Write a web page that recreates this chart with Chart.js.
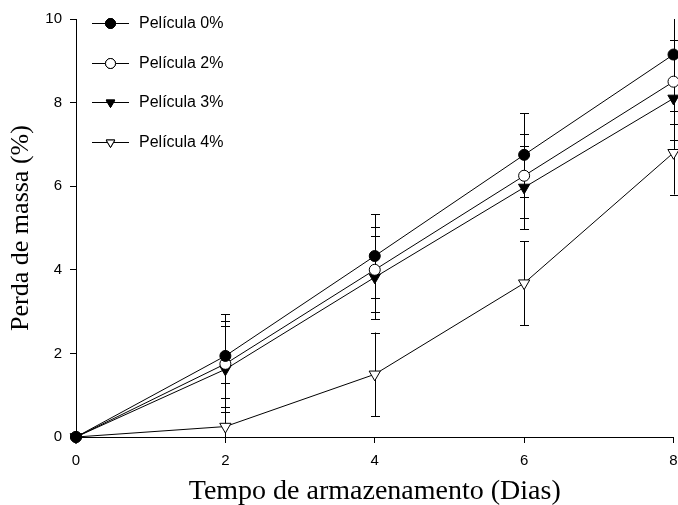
<!DOCTYPE html>
<html>
<head>
    <script src="https://cdn.jsdelivr.net/npm/chart.js"></script>
    <title>Perda de massa</title>
    <style>
        html, body { margin: 0; background: #fff; overflow: hidden; }
        #wrap { width: 678px; height: 505px; overflow: hidden; }
    </style>
</head>
<body>
    <div id="wrap"><canvas id="massChart" width="681" height="505"></canvas></div>

    <script>
        // storage days
        const dias = [0, 2, 4, 6, 8];

        // mean mass loss (%) per coating
        const pelicula0 = [0, 1.94, 4.33, 6.75, 9.15];
        const pelicula2 = [0, 1.75, 4.00, 6.25, 8.50];
        const pelicula3 = [0, 1.62, 3.82, 5.97, 8.10];
        const pelicula4 = [0, 0.25, 1.50, 3.68, 6.80];

        // standard deviations
        const desvio0 = [0, 1.00, 1.00, 1.00, 1.00];
        const desvio2 = [0, 1.03, 1.02, 1.00, 1.00];
        const desvio3 = [0, 1.03, 1.00, 1.00, 1.00];
        const desvio4 = [0, 1.04, 1.00, 1.00, 1.00];

        const yTicks = [0, 2, 4, 6, 8, 10];
        const xTicks = [0, 2, 4, 6, 8];

        function toPoints(values) {
            return dias.map((d, i) => ({ x: d, y: values[i] }));
        }

        function makeSet(label, values, sd, style, fill, rotation) {
            return {
                label: label,
                data: toPoints(values),
                sd: sd,
                borderColor: '#000',
                borderWidth: 1,
                pointStyle: style,
                pointRotation: rotation,
                pointRadius: style === 'circle' ? 5.5 : 6.5,
                pointBackgroundColor: fill,
                pointBorderColor: '#000',
                pointBorderWidth: 1,
                tension: 0,
                fill: false
            };
        }

        // vertical error bars with caps, drawn under the markers
        const errorBars = {
            id: 'errorBars',
            beforeDatasetsDraw(chart) {
                const ctx = chart.ctx;
                const xs = chart.scales.x;
                const ys = chart.scales.y;
                const area = chart.chartArea;
                ctx.save();
                ctx.strokeStyle = '#000';
                ctx.lineWidth = 1;
                chart.data.datasets.forEach(ds => {
                    ds.data.forEach((p, i) => {
                        const s = ds.sd[i];
                        if (!s) return;
                        const px = Math.round(xs.getPixelForValue(p.x)) + 0.5;
                        const hi = ys.getPixelForValue(p.y + s);
                        const lo = ys.getPixelForValue(p.y - s);
                        const top = Math.max(hi, area.top);
                        const bot = Math.min(lo, area.bottom);
                        ctx.beginPath();
                        ctx.moveTo(px, top);
                        ctx.lineTo(px, bot);
                        if (hi >= area.top) {
                            ctx.moveTo(px - 4.5, Math.round(hi) + 0.5);
                            ctx.lineTo(px + 4.5, Math.round(hi) + 0.5);
                        }
                        if (lo <= area.bottom) {
                            ctx.moveTo(px - 4.5, Math.round(lo) + 0.5);
                            ctx.lineTo(px + 4.5, Math.round(lo) + 0.5);
                        }
                        ctx.stroke();
                    });
                });
                ctx.restore();
            }
        };

        // legend inside the plot: short line with marker, then label
        const insideLegend = {
            id: 'insideLegend',
            afterDraw(chart) {
                const ctx = chart.ctx;
                ctx.save();
                ctx.font = '16px "Liberation Sans", Arial, sans-serif';
                ctx.textBaseline = 'middle';
                chart.data.datasets.forEach((ds, i) => {
                    const y = Math.round(23 + i * 39.7) + 0.5;
                    ctx.strokeStyle = '#000';
                    ctx.lineWidth = 1;
                    ctx.beginPath();
                    ctx.moveTo(92, y);
                    ctx.lineTo(129, y);
                    ctx.stroke();
                    Chart.helpers.drawPoint(ctx, {
                        pointStyle: ds.pointStyle,
                        rotation: ds.pointRotation,
                        radius: 5,
                        borderWidth: 1
                    }, 110.5, y);
                    ctx.fillStyle = ds.pointBackgroundColor;
                    ctx.fill();
                    ctx.stroke();
                    ctx.fillStyle = '#000';
                    ctx.fillText(ds.label, 139, y + 0.5);
                });
                ctx.restore();
            }
        };

        const ctx = document.getElementById('massChart').getContext('2d');
        const chart = new Chart(ctx, {
            type: 'line',
            data: {
                datasets: [
                    makeSet('Película 0%', pelicula0, desvio0, 'circle', '#000', 0),
                    makeSet('Película 2%', pelicula2, desvio2, 'circle', '#fff', 0),
                    makeSet('Película 3%', pelicula3, desvio3, 'triangle', '#000', 180),
                    makeSet('Película 4%', pelicula4, desvio4, 'triangle', '#fff', 180)
                ]
            },
            options: {
                responsive: false,
                animation: false,
                clip: false,
                layout: { padding: { top: 19, right: 2, left: 0, bottom: -3 } },
                plugins: {
                    legend: { display: false },
                    tooltip: { enabled: false }
                },
                scales: {
                    x: {
                        type: 'linear',
                        min: 0,
                        max: 8,
                        afterBuildTicks: axis => { axis.ticks = xTicks.map(v => ({ value: v })); },
                        afterFit: axis => {
                            axis.height = 71;
                            axis.paddingLeft = 0;
                            axis.paddingRight = 0;
                        },
                        grid: { drawOnChartArea: false, drawTicks: true, tickLength: 6, color: '#000' },
                        border: { display: true, color: '#000', width: 1 },
                        ticks: {
                            color: '#000',
                            padding: 9,
                            font: { family: '"Liberation Sans", Arial, sans-serif', size: 15 }
                        },
                        title: {
                            display: true,
                            text: 'Tempo de armazenamento (Dias)',
                            color: '#000',
                            padding: { top: 6, bottom: 0 },
                            font: { family: '"Liberation Serif", "Times New Roman", serif', size: 28 }
                        }
                    },
                    y: {
                        min: 0,
                        max: 10,
                        afterBuildTicks: axis => { axis.ticks = yTicks.map(v => ({ value: v })); },
                        afterFit: axis => { axis.width = 76; },
                        grid: { drawOnChartArea: false, drawTicks: true, tickLength: 6, color: '#000' },
                        border: { display: true, color: '#000', width: 1 },
                        ticks: {
                            color: '#000',
                            padding: 8,
                            font: { family: '"Liberation Sans", Arial, sans-serif', size: 15 }
                        },
                        title: {
                            display: true,
                            text: 'Perda de massa (%)',
                            color: '#000',
                            padding: { top: 6 },
                            font: { family: '"Liberation Serif", "Times New Roman", serif', size: 26 }
                        }
                    }
                }
            },
            plugins: [errorBars, insideLegend]
        });
    </script>
</body>
</html>
